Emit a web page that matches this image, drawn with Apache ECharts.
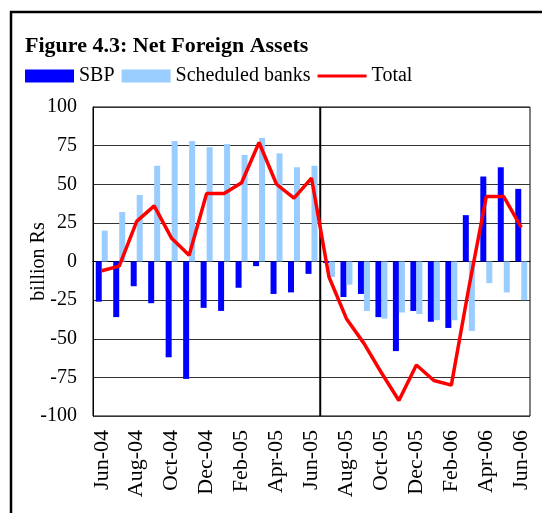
<!DOCTYPE html>
<html>
<head>
<meta charset="utf-8">
<script src="https://cdn.jsdelivr.net/npm/echarts@6/dist/echarts.min.js"></script>
<style>
  html, body { margin: 0; padding: 0; background: #fff; }
  #chart { width: 542px; height: 513px; }
</style>
</head>
<body>
<div id="chart"></div>
<script>
const months = ['Jun-04', 'Jul-04', 'Aug-04', 'Sep-04', 'Oct-04', 'Nov-04', 'Dec-04', 'Jan-05', 'Feb-05',
  'Mar-05', 'Apr-05', 'May-05', 'Jun-05', 'Jul-05', 'Aug-05', 'Sep-05', 'Oct-05', 'Nov-05', 'Dec-05',
  'Jan-06', 'Feb-06', 'Mar-06', 'Apr-06', 'May-06', 'Jun-06'];
const sbp = [-26, -36, -16, -27, -62, -76, -30, -32, -17, -3, -21, -20, -8,
  -1, -23, -21, -36, -58, -32, -39, -43, 30, 55, 61, 47];
const banks = [20, 32, 43, 62, 78, 78, 74, 76, 69, 80, 70, 61, 62,
  -10, -15, -32, -37, -33, -34, -38, -38, -45, -14, -20, -25];
const total = [-6, -3, 26, 36, 15, 4, 44, 44, 51, 77, 50, 41, 54,
  -10, -37, -53, -72, -90, -67, -77, -80, -17, 42, 42, 22];
// divider after the 13th month (Jun-05), on a 0..25 month scale
const splitAt = 13;
const splitLine = [[splitAt, -100], [splitAt, 100]];

const font = 'Liberation Serif, Times New Roman, serif';
const chart = echarts.init(document.getElementById('chart'));

chart.setOption({
  animation: false,
  backgroundColor: '#fff',
  title: {
    text: 'Figure 4.3: Net Foreign Assets',
    left: 25,
    top: 35,
    padding: 0,
    textStyle: { fontFamily: font, fontSize: 22, fontWeight: 'bold', color: '#000' }
  },
  legend: {
    left: 25,
    top: 66,
    padding: 0,
    itemWidth: 49,
    itemHeight: 13,
    itemGap: 7,
    textStyle: { fontFamily: font, fontSize: 20, color: '#000' },
    data: [
      { name: 'SBP', icon: 'rect' },
      { name: 'Scheduled banks', icon: 'rect' },
      { name: 'Total', icon: 'path://M0,0L52,0L52,3L0,3Z' }
    ]
  },
  graphic: [
    {
      type: 'rect',
      shape: { x: 11, y: 12, width: 600, height: 600 },
      style: { fill: 'none', stroke: '#000', lineWidth: 2.5 }
    }
  ],
  grid: {
    left: 93,
    right: 12,
    top: 107,
    bottom: 97,
    show: true,
    borderColor: '#000',
    borderWidth: 1
  },
  xAxis: [
    {
      type: 'category',
      data: months,
      axisLine: { lineStyle: { color: '#000' } },
      axisTick: { show: false },
      axisLabel: {
        interval: 1,
        rotate: 90,
        margin: 14,
        fontFamily: font,
        fontSize: 22,
        color: '#000'
      }
    },
    {
      type: 'value',
      min: 0,
      max: 25,
      show: false,
      splitLine: { show: false }
    }
  ],
  yAxis: {
    type: 'value',
    min: -100,
    max: 100,
    interval: 25,
    name: 'billion Rs',
    nameLocation: 'middle',
    nameGap: 44,
    nameMoveOverlap: false,
    nameTextStyle: { fontFamily: font, fontSize: 20, color: '#000' },
    axisLine: { show: true, lineStyle: { color: '#000' } },
    axisTick: { show: false },
    axisLabel: { margin: 16, fontFamily: font, fontSize: 20, color: '#000' },
    splitLine: { lineStyle: { color: '#333', width: 1 } }
  },
  series: [
    {
      name: 'SBP',
      type: 'bar',
      data: sbp,
      barWidth: 6,
      barGap: '0%',
      itemStyle: { color: '#0000ff' }
    },
    {
      name: 'Scheduled banks',
      type: 'bar',
      data: banks,
      barWidth: 6,
      itemStyle: { color: '#99ccff' }
    },
    {
      name: 'Total',
      type: 'line',
      data: total,
      symbol: 'none',
      lineStyle: { color: '#ff0000', width: 3.5 },
      itemStyle: { color: '#ff0000' },
      z: 5
    },
    {
      name: 'divider',
      type: 'line',
      xAxisIndex: 1,
      data: splitLine,
      symbol: 'none',
      silent: true,
      lineStyle: { color: '#000', width: 2 },
      z: 4
    }
  ]
});
</script>
</body>
</html>
